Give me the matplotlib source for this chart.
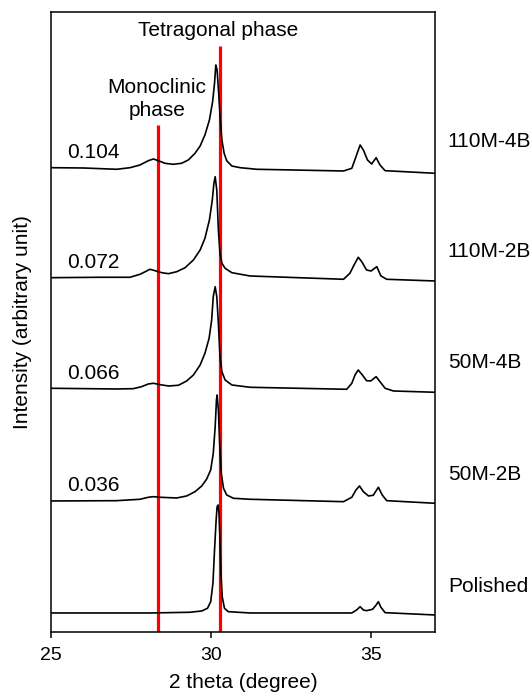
# XRD patterns of the ground samples, stacked with an offset
import numpy as np
import matplotlib.pyplot as plt

plt.rcParams['font.family'] = ['Liberation Sans', 'DejaVu Sans']

samples = ['Polished', '50M-2B', '50M-4B', '110M-2B', '110M-4B']
monoclinic_frac = [None, '0.036', '0.066', '0.072', '0.104']
offsets = [19, 131, 243, 354, 464]

# 2 theta (deg) and intensity above each baseline
tt_polished = [25.0, 28.09, 29.34, 29.71, 29.89, 29.99, 30.06, 30.11, 30.16, 30.19,
               30.22, 30.25, 30.28, 30.31, 30.35, 30.42, 30.54, 31.22, 34.40, 34.55,
               34.66, 34.76, 34.86, 35.05, 35.16, 35.23, 35.31, 35.44, 37.0]
i_polished = [0, 0, 0.7, 2, 4.7, 11.3, 29.7, 63, 93, 106.3,
              108, 99.7, 73, 39.7, 16.3, 4.7, 1.3, 0, 0, 3,
              6.3, 3, 2.3, 3.7, 8, 11.3, 5.7, 0.3, -2]

tt_50m2b = [25.0, 27.05, 27.78, 28.04, 28.20, 28.41, 28.93, 29.24, 29.50, 29.71,
            29.86, 29.99, 30.07, 30.13, 30.17, 30.19, 30.23, 30.27, 30.32, 30.39,
            30.49, 30.70, 31.22, 34.14, 34.40, 34.53, 34.64, 34.76, 34.92, 35.07,
            35.23, 35.35, 35.49, 37.0]
i_50m2b = [0, 0.3, 1.7, 3.7, 4.3, 3.7, 3, 5, 9.3, 15,
           21.7, 31, 47.7, 74.3, 101, 106, 91, 57.7, 27.7, 12.7,
           6, 2.7, 1.7, -0.7, 3.7, 11, 15, 9.3, 5, 5.7,
           13.7, 6, 0.3, -2.3]

tt_50m4b = [25.0, 27.05, 27.57, 27.83, 28.04, 28.20, 28.41, 28.67, 28.98, 29.24,
            29.45, 29.66, 29.81, 29.94, 30.02, 30.07, 30.13, 30.18, 30.23, 30.28,
            30.34, 30.44, 30.65, 31.22, 34.24, 34.40, 34.50, 34.60, 34.73, 34.86,
            34.99, 35.16, 35.28, 35.44, 35.70, 37.0]
i_50m4b = [0.7, 0, 0.3, 2.3, 5, 5.7, 4.3, 3, 3.7, 8,
           14, 24, 35.7, 50.7, 69, 92.3, 102.3, 92.3, 65.7, 32.3,
           17.3, 9, 4, 1.7, -0.3, 5.7, 14, 19, 14, 8.3,
           8, 12.3, 7.3, 0.7, -2, -3.3]

tt_110m2b = [25.0, 26.53, 27.47, 27.78, 27.99, 28.09, 28.25, 28.46, 28.67, 28.93,
             29.19, 29.45, 29.66, 29.81, 29.95, 30.04, 30.09, 30.13, 30.18, 30.23,
             30.28, 30.34, 30.44, 30.65, 31.22, 34.14, 34.34, 34.47, 34.60, 34.71,
             34.86, 35.00, 35.18, 35.31, 35.49, 37.0]
i_110m2b = [0.3, 0.7, 0.7, 3.7, 7, 8.7, 7.3, 5.3, 4.3, 6.3,
            10.3, 18, 28, 39.7, 58, 78, 94.7, 101.3, 88, 48,
            24.7, 14.7, 9.7, 5.3, 2, -1.3, 4.7, 13, 20.7, 16.3,
            8, 7, 11.3, 2, -1.3, -3]

tt_110m4b = [25.0, 26.01, 27.05, 27.47, 27.78, 28.04, 28.20, 28.35, 28.56, 28.82,
             29.08, 29.29, 29.50, 29.66, 29.81, 29.95, 30.05, 30.11, 30.15, 30.19,
             30.24, 30.29, 30.34, 30.41, 30.49, 30.65, 30.91, 31.43, 34.14, 34.40,
             34.53, 34.66, 34.76, 34.89, 35.02, 35.16, 35.28, 35.44, 37.0]
i_110m4b = [0.3, 0, -1.3, 0.3, 3, 7.3, 9, 7.3, 4.7, 3.7,
            4.7, 8, 14.7, 22, 33, 48, 66.3, 84.7, 103, 98,
            74.7, 48, 28, 14.7, 7.3, 2, 0.3, -1.3, -3, -0.3,
            11.3, 23, 18, 8, 4, 10.3, 3, -2.7, -5.3]

two_theta = [tt_polished, tt_50m2b, tt_50m4b, tt_110m2b, tt_110m4b]
intensity = [i_polished, i_50m2b, i_50m4b, i_110m2b, i_110m4b]

mono_pos, mono_top = 28.35, 507
tetra_pos, tetra_top = 30.28, 586

fig = plt.figure(figsize=(5.32, 6.97), dpi=100)
ax = fig.add_axes([0.0959, 0.0933, 0.7218, 0.8895])

ax.vlines([mono_pos, tetra_pos], 0, [mono_top, tetra_top], colors='#ff0000', lw=2.3, zorder=1)

for k in range(len(samples)):
    y = np.array(intensity[k]) + offsets[k]
    ax.plot(two_theta[k], y, color='black', lw=1.2, zorder=2)
    # sample name outside the axes, on the right
    ax.text(37.4, offsets[k] + 26, samples[k], fontsize=15, va='center', ha='left',
            clip_on=False)
    if monoclinic_frac[k] is not None:
        ax.text(25.49, offsets[k] + 15, monoclinic_frac[k], fontsize=15, va='center', ha='left')

ax.text(30.22, 601, 'Tetragonal phase', fontsize=15, ha='center', va='center')
ax.text(28.31, 533, 'Monoclinic\nphase', fontsize=15, ha='center', va='center',
        linespacing=1.3)

ax.set_xlim(25, 37)
ax.set_ylim(0, 620)
ax.set_xticks([25, 30, 35])
ax.set_yticks([])
ax.tick_params(axis='x', direction='out', length=4, width=1.1, labelsize=14, pad=7)
for s in ax.spines.values():
    s.set_linewidth(1.1)
ax.set_xlabel('2 theta (degree)', fontsize=15, labelpad=6)
ax.set_ylabel('Intensity (arbitrary unit)', fontsize=15)
ax.yaxis.set_label_coords(-0.05, 0.5)

fig.savefig('out.png', dpi=100)
